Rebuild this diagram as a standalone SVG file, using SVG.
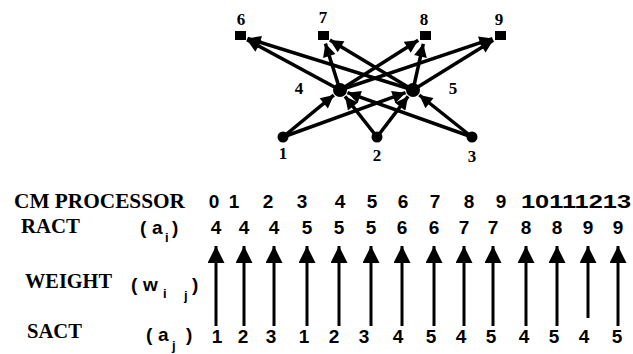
<svg xmlns="http://www.w3.org/2000/svg" width="633" height="354" viewBox="0 0 633 354">
<defs>
<style>
.e{stroke:#000;stroke-width:3.5;fill:none;marker-end:url(#ah)}
.t{stroke:#000;stroke-width:3;fill:none;marker-end:url(#bh)}
.nl{font-family:"Liberation Serif",serif;font-weight:bold;font-size:17px;text-anchor:middle;fill:#000}
.lb{font-family:"Liberation Serif",serif;font-weight:bold;font-size:20px;fill:#000}
.d{font-family:"Liberation Sans",Arial,sans-serif;font-weight:bold;font-size:19px;text-anchor:middle;fill:#000}
.p{font-family:"Liberation Sans",Arial,sans-serif;font-weight:bold;font-size:19px;fill:#000}
.s{font-family:"Liberation Sans",Arial,sans-serif;font-weight:bold;font-size:13px;fill:#000}
</style>
<marker id="ah" viewBox="0 0 10 10" refX="10" refY="5" markerUnits="userSpaceOnUse" markerWidth="15" markerHeight="13" orient="auto">
<path d="M0,0 L10,5 L0,10 Z" fill="#000"/>
</marker>
<marker id="bh" viewBox="0 0 10 10" refX="10" refY="5" markerUnits="userSpaceOnUse" markerWidth="17" markerHeight="17" orient="auto">
<path d="M0,0 L10,5 L0,10 Z" fill="#000"/>
</marker>
</defs>
<rect width="633" height="354" fill="#fff"/>

<g id="connectors">
<line class="e" x1="283" y1="137" x2="333.8" y2="95.1"/>
<line class="e" x1="377" y1="137" x2="345.0" y2="96.3"/>
<line class="e" x1="472" y1="137" x2="347.5" y2="92.7"/>
<line class="e" x1="283" y1="137" x2="405.5" y2="92.7"/>
<line class="e" x1="377" y1="137" x2="408.1" y2="96.4"/>
<line class="e" x1="472" y1="137" x2="419.3" y2="95.0"/>
<line class="e" x1="340" y1="90" x2="247.0" y2="39.8"/>
<line class="e" x1="413" y1="90" x2="247.6" y2="38.4"/>
<line class="e" x1="340" y1="90" x2="325.4" y2="43.6"/>
<line class="e" x1="413" y1="90" x2="329.9" y2="40.1"/>
<line class="e" x1="340" y1="90" x2="418.2" y2="40.3"/>
<line class="e" x1="413" y1="90" x2="423.3" y2="43.8"/>
<line class="e" x1="340" y1="90" x2="492.4" y2="38.6"/>
<line class="e" x1="413" y1="90" x2="493.2" y2="40.2"/>
</g>

<g id="n6"><rect x="235" y="31" width="11" height="9"/><text class="nl" x="241" y="25">6</text></g>
<g id="n7"><rect x="318" y="31" width="11" height="9"/><text class="nl" x="323" y="23">7</text></g>
<g id="n8"><rect x="420" y="31" width="11" height="9"/><text class="nl" x="424" y="25">8</text></g>
<g id="n9"><rect x="495" y="31" width="11" height="9"/><text class="nl" x="499" y="25">9</text></g>
<g id="n4"><circle cx="340" cy="90" r="7"/><text class="nl" x="299" y="94">4</text></g>
<g id="n5"><circle cx="413" cy="90" r="7"/><text class="nl" x="453" y="94">5</text></g>
<g id="n1"><circle cx="283" cy="137" r="5.5"/><text class="nl" x="283" y="159">1</text></g>
<g id="n2"><circle cx="377" cy="137" r="5.5"/><text class="nl" x="377" y="161">2</text></g>
<g id="n3"><circle cx="472" cy="137" r="5.5"/><text class="nl" x="472" y="162">3</text></g>

<g id="table-labels">
<text class="lb" x="14" y="208" textLength="171" lengthAdjust="spacingAndGlyphs">CM PROCESSOR</text>
<text class="lb" x="21" y="233" textLength="59" lengthAdjust="spacingAndGlyphs">RACT</text>
<text class="lb" x="25" y="288" textLength="87" lengthAdjust="spacingAndGlyphs">WEIGHT</text>
<text class="lb" x="27" y="338" textLength="55" lengthAdjust="spacingAndGlyphs">SACT</text>
<text class="p" x="140" y="234">(</text><text class="p" x="152" y="234">a</text><text class="s" x="165" y="242">i</text><text class="p" x="172" y="234">)</text>
<text class="p" x="131" y="291">(</text><text class="p" x="143" y="291">w</text><text class="s" x="163" y="298">i</text><text class="s" x="184" y="300">j</text><text class="p" x="192" y="291">)</text>
<text class="p" x="146" y="341">(</text><text class="p" x="158" y="341">a</text><text class="s" x="172" y="350">j</text><text class="p" x="186" y="341">)</text>
</g>

<g id="header-row">
<text class="d" x="214" y="208">0</text>
<text class="d" x="234" y="208">1</text>
<text class="d" x="268" y="208">2</text>
<text class="d" x="302" y="208">3</text>
<text class="d" x="340" y="208">4</text>
<text class="d" x="372" y="208">5</text>
<text class="d" x="403" y="208">6</text>
<text class="d" x="435" y="208">7</text>
<text class="d" x="469" y="208">8</text>
<text class="d" x="501" y="208">9</text>
<text class="p" x="521" y="208" textLength="110" lengthAdjust="spacingAndGlyphs">10111213</text>
</g>

<g id="ract-row">
<text class="d" x="216" y="234">4</text>
<text class="d" x="244" y="234">4</text>
<text class="d" x="274" y="234">4</text>
<text class="d" x="307" y="234">5</text>
<text class="d" x="339" y="234">5</text>
<text class="d" x="371" y="234">5</text>
<text class="d" x="402" y="234">6</text>
<text class="d" x="434" y="234">6</text>
<text class="d" x="464" y="234">7</text>
<text class="d" x="493" y="234">7</text>
<text class="d" x="526" y="234">8</text>
<text class="d" x="557" y="234">8</text>
<text class="d" x="588" y="234">9</text>
<text class="d" x="618" y="234">9</text>
</g>

<g id="weight-arrows">
<line class="t" x1="216" y1="326" x2="216" y2="246"/>
<line class="t" x1="244" y1="326" x2="244" y2="246"/>
<line class="t" x1="274" y1="326" x2="274" y2="246"/>
<line class="t" x1="307" y1="326" x2="307" y2="246"/>
<line class="t" x1="339" y1="326" x2="339" y2="246"/>
<line class="t" x1="371" y1="326" x2="371" y2="246"/>
<line class="t" x1="402" y1="326" x2="402" y2="246"/>
<line class="t" x1="434" y1="326" x2="434" y2="246"/>
<line class="t" x1="464" y1="326" x2="464" y2="246"/>
<line class="t" x1="493" y1="326" x2="493" y2="246"/>
<line class="t" x1="526" y1="326" x2="526" y2="246"/>
<line class="t" x1="557" y1="326" x2="557" y2="246"/>
<line class="t" x1="588" y1="318" x2="588" y2="246"/>
<line class="t" x1="618" y1="326" x2="618" y2="246"/>
</g>

<g id="sact-row">
<text class="d" x="217" y="343">1</text>
<text class="d" x="243" y="343">2</text>
<text class="d" x="271" y="343">3</text>
<text class="d" x="304" y="343">1</text>
<text class="d" x="334" y="343">2</text>
<text class="d" x="364" y="343">3</text>
<text class="d" x="398" y="343">4</text>
<text class="d" x="431" y="343">5</text>
<text class="d" x="461" y="343">4</text>
<text class="d" x="491" y="343">5</text>
<text class="d" x="524" y="343">4</text>
<text class="d" x="554" y="343">5</text>
<text class="d" x="584" y="343">4</text>
<text class="d" x="617" y="343">5</text>
</g>
</svg>
